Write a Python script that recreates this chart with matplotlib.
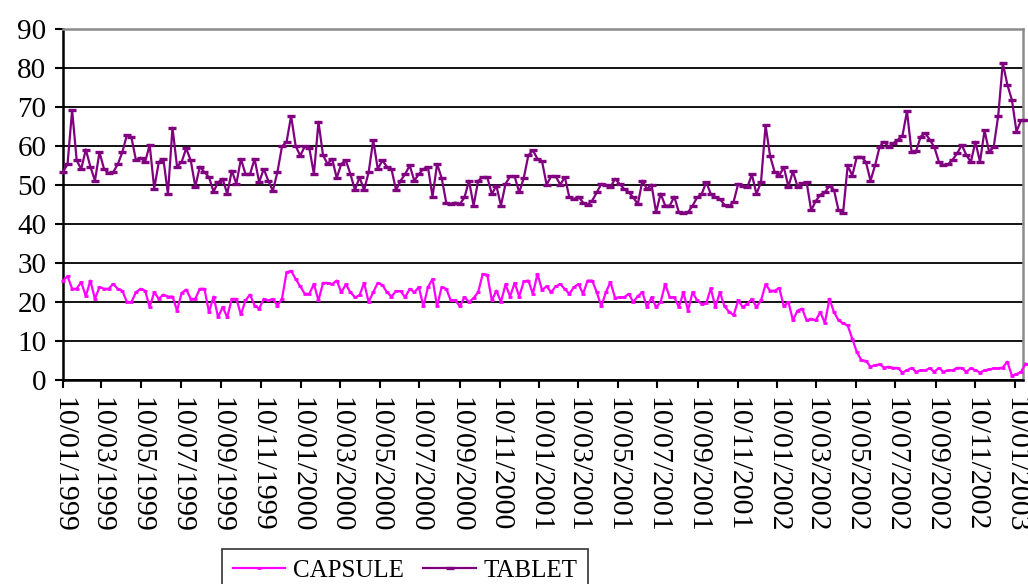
import datetime as dt
import matplotlib
matplotlib.use("Agg")
import matplotlib.pyplot as plt
import matplotlib.dates as mdates

plt.rcParams['font.family'] = ['Liberation Serif', 'DejaVu Serif']

# ---- data (weekly observations starting 10/01/1999) ----
start_date = dt.date(1999, 1, 10)

tablet = [
    53.3, 55.4, 69.2, 56.3, 54.1, 59.1, 54.7, 51.1, 58.4, 54.1,
    53.0, 53.3, 55.3, 58.4, 62.8, 62.2, 56.3, 57.0, 55.9, 60.3,
    49.1, 55.9, 56.7, 47.7, 64.7, 54.7, 55.9, 59.4, 56.3, 49.6,
    54.7, 53.3, 52.0, 48.3, 50.7, 51.6, 47.7, 53.7, 50.3, 56.7,
    52.8, 52.8, 56.7, 50.7, 54.1, 51.1, 48.5, 53.3, 59.9, 61.0,
    67.7, 60.0, 57.5, 59.9, 59.4, 52.8, 66.2, 57.6, 55.4, 56.7,
    51.8, 55.4, 56.3, 52.8, 48.7, 52.0, 48.7, 53.3, 61.5, 54.1,
    56.3, 54.7, 54.1, 48.7, 51.1, 52.8, 55.0, 51.1, 52.8, 54.1,
    54.6, 47.0, 55.4, 51.8, 45.5, 45.1, 45.5, 45.1, 46.8, 51.1,
    44.7, 51.1, 52.0, 52.0, 47.7, 49.8, 44.7, 50.3, 52.2, 52.2,
    48.1, 51.8, 57.6, 58.9, 56.7, 56.1, 50.1, 52.2, 52.2, 50.1,
    52.0, 46.8, 46.4, 47.0, 45.5, 44.9, 46.0, 48.1, 50.3, 50.1,
    49.4, 51.6, 50.3, 49.0, 48.1, 46.8, 45.1, 51.1, 49.0, 50.1,
    43.0, 47.8, 44.7, 44.7, 47.0, 43.0, 42.8, 43.0, 44.7, 46.8,
    47.7, 50.7, 47.7, 46.8, 46.4, 44.9, 44.5, 45.7, 50.3, 49.8,
    49.4, 52.7, 47.7, 50.7, 65.3, 57.4, 53.3, 52.4, 54.6, 49.6,
    53.5, 49.6, 50.4, 50.7, 43.5, 45.9, 47.5, 48.1, 49.8, 48.7,
    43.5, 42.9, 55.0, 52.4, 57.2, 57.2, 55.9, 51.1, 55.0, 59.8,
    61.1, 59.7, 60.7, 61.6, 62.6, 68.9, 58.5, 58.7, 62.4, 63.3,
    61.6, 59.7, 55.9, 55.0, 55.3, 56.5, 58.1, 60.3, 57.7, 55.9,
    61.1, 55.9, 64.0, 58.5, 59.7, 67.8, 81.3, 75.7, 71.8, 63.7,
    66.6, 66.6,
]

capsule = [
    25.5, 26.6, 23.4, 23.4, 25.1, 21.5, 25.5, 20.8, 23.8, 23.4,
    23.4, 24.6, 23.4, 22.9, 20.0, 20.0, 22.5, 23.4, 22.9, 18.7,
    22.5, 20.8, 21.9, 21.4, 21.4, 17.8, 22.3, 23.2, 20.8, 20.8,
    23.4, 23.4, 17.4, 21.4, 16.1, 18.7, 16.1, 20.8, 20.8, 16.8,
    20.4, 21.9, 19.1, 18.3, 20.8, 20.4, 20.8, 19.1, 20.8, 27.6,
    28.0, 25.9, 24.0, 22.1, 22.1, 24.6, 20.4, 24.9, 24.9, 24.6,
    25.5, 22.5, 24.5, 22.5, 21.2, 21.7, 24.9, 20.0, 22.5, 24.9,
    24.4, 22.5, 21.4, 22.8, 22.8, 21.2, 23.4, 22.5, 23.8, 18.9,
    23.8, 25.9, 18.9, 23.8, 23.4, 20.4, 20.4, 18.9, 21.2, 20.0,
    21.0, 22.5, 27.2, 27.0, 20.4, 22.9, 20.0, 24.5, 21.4, 24.9,
    21.4, 25.3, 25.5, 22.1, 27.2, 23.1, 24.0, 22.5, 24.0, 24.6,
    23.3, 22.1, 23.8, 24.6, 22.1, 25.5, 25.5, 22.5, 18.9, 22.5,
    25.1, 21.1, 21.2, 21.2, 22.1, 20.0, 21.5, 22.5, 18.7, 21.2,
    18.7, 20.0, 24.6, 21.2, 21.2, 18.7, 22.5, 17.8, 22.5, 20.4,
    19.5, 19.7, 23.5, 18.7, 22.5, 18.9, 17.5, 16.6, 20.4, 18.7,
    19.5, 20.8, 18.7, 20.4, 24.5, 22.9, 22.9, 23.6, 18.9, 20.0,
    15.3, 17.8, 18.3, 15.3, 15.7, 15.3, 17.4, 14.6, 20.8, 17.4,
    15.3, 14.5, 14.0, 10.6, 7.2, 5.1, 4.9, 3.4, 3.8, 4.0,
    3.2, 3.4, 3.1, 3.1, 1.9, 2.5, 3.1, 2.1, 2.5, 2.5,
    3.0, 2.1, 3.1, 2.1, 2.5, 2.5, 3.1, 3.1, 2.1, 3.0,
    2.5, 1.9, 2.5, 2.7, 3.0, 3.0, 3.2, 4.7, 1.1, 1.5,
    2.1, 4.2,
]

dates = [start_date + dt.timedelta(days=7 * i) for i in range(len(tablet))]

tick_dates = [dt.date(y, m, 10) for y in range(1999, 2003) for m in (1, 3, 5, 7, 9, 11)]
tick_dates.append(dt.date(2003, 1, 10))
x_end = dt.date(2003, 1, 22)

y_ticks = list(range(0, 100, 10))

# ---- figure ----
fig = plt.figure(figsize=(10.28, 5.84), dpi=100)
ax = fig.add_axes([63 / 1028, 1 - 380 / 584, (1023 - 63) / 1028, (380 - 29) / 584])

ax.plot(dates, capsule, color='#FF00FF', lw=1.6, marker='_', markersize=3,
        markeredgewidth=2, label='CAPSULE', clip_on=False, zorder=3)
ax.plot(dates, tablet, color='#800080', lw=1.6, marker='_', markersize=6,
        markeredgewidth=2.4, label='TABLET', clip_on=False, zorder=4)

ax.set_xlim(start_date, x_end)
ax.set_ylim(0, 90)
ax.set_yticks(y_ticks)
ax.set_xticks(tick_dates)
ax.xaxis.set_major_formatter(mdates.DateFormatter('%d/%m/%Y'))

for lbl in ax.get_xticklabels():
    lbl.set_rotation(270)
    lbl.set_ha('center')
    lbl.set_va('top')

ax.tick_params(axis='x', labelsize=21.5, direction='out', length=6, width=1.5,
               pad=6, colors='black')
ax.tick_params(axis='y', labelsize=21, direction='out', length=6, width=1.5,
               pad=6, colors='black')

ax.yaxis.grid(True, color='black', lw=1.3)
ax.set_axisbelow(True)
for side in ('left', 'bottom'):
    ax.spines[side].set_color('black')
    ax.spines[side].set_linewidth(1.8)
for side in ('top', 'right'):
    ax.spines[side].set_color('#8c8c8c')
    ax.spines[side].set_linewidth(1.8)

leg = fig.legend(loc='upper center', bbox_to_anchor=(405 / 1028, 1 - 549 / 584),
                 ncol=2, fontsize=18, frameon=True, fancybox=False,
                 edgecolor='black', handlelength=2.1, handletextpad=0.3,
                 columnspacing=0.8, borderpad=0.42, borderaxespad=0)
leg.get_frame().set_linewidth(1.2)

fig.savefig('out.png', dpi=100)
